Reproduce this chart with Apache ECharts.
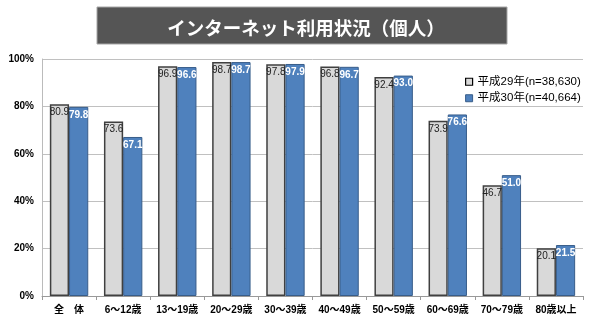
<!DOCTYPE html>
<html><head><meta charset="utf-8">
<script src="https://cdn.jsdelivr.net/npm/echarts@6/dist/echarts.min.js"></script>
<style>html,body{margin:0;padding:0;background:#fff}#c{width:600px;height:323px}</style>
</head><body><div id="c"></div>
<script>
const titleText = 'インターネット利用状況（個人）';
const categories = ['全　体','6～12歳','13～19歳','20～29歳','30～39歳','40～49歳','50～59歳','60～69歳','70～79歳','80歳以上'];
const seriesNames = ['平成29年(n=38,630)','平成30年(n=40,664)'];
const h29 = [80.9,73.6,96.9,98.7,97.8,96.8,92.4,73.9,46.7,20.1];
const h30 = [79.8,67.1,96.6,98.7,97.9,96.7,93.0,76.6,51.0,21.5];
const yTicks = [0,20,40,60,80,100];

const chart = echarts.init(document.getElementById('c'));
chart.setOption({
  animation:false,
  graphic:[{type:'rect',shape:{x:97,y:7,width:410,height:37},style:{fill:'#555555',stroke:'#a6a6a6',lineWidth:1}}],
  title:{text:titleText,left:301,top:14,textAlign:'center',
    textStyle:{color:'#fff',fontSize:18.5,fontWeight:'bold',fontFamily:'Noto Sans CJK JP'}},
  legend:{orient:'vertical',left:460,top:71,itemWidth:7,itemHeight:7,itemGap:5,icon:'rect',
    textStyle:{fontSize:11.5,color:'#000',fontFamily:'Liberation Sans, Noto Sans CJK JP'},
    data:[{name:seriesNames[0],itemStyle:{color:'#d9d9d9',borderColor:'#000',borderWidth:1.2}},
          {name:seriesNames[1],itemStyle:{color:'#4f81bd',borderColor:'#385d8a',borderWidth:1}}]},
  grid:{left:42,right:17,top:59,bottom:27,containLabel:false},
  xAxis:{type:'category',data:categories,
    axisLine:{lineStyle:{color:'#999'}},
    axisTick:{show:true,lineStyle:{color:'#999'},length:4},
    axisLabel:{interval:0,color:'#000',fontSize:10,fontWeight:'bold',fontFamily:'Liberation Sans, Noto Sans CJK JP',margin:9}},
  yAxis:{type:'value',min:0,max:100,interval:20,
    axisLine:{show:true,lineStyle:{color:'#bbb'}},
    axisTick:{show:false},
    splitLine:{lineStyle:{color:'#c0c0c0'}},
    axisLabel:{color:'#000',fontSize:10,fontWeight:'bold',fontFamily:'Liberation Sans',margin:8,
      formatter:v=>yTicks.includes(v)?v+'%':''}},
  series:[
    {name:seriesNames[0],type:'bar',data:h29,barGap:'0%',barCategoryGap:'29%',
     itemStyle:{color:'#d9d9d9',borderColor:'#404040',borderWidth:1.5},
     label:{show:true,position:'insideTop',distance:3,color:'#222',fontSize:10,fontFamily:'Liberation Sans',formatter:p=>p.value.toFixed(1)}},
    {name:seriesNames[1],type:'bar',data:h30,
     itemStyle:{color:'#4f81bd',borderColor:'#385d8a',borderWidth:1},
     label:{show:true,position:'insideTop',distance:3,color:'#fff',fontSize:10,fontWeight:'bold',fontFamily:'Liberation Sans',formatter:p=>p.value.toFixed(1)}}
  ]
});
</script></body></html>
